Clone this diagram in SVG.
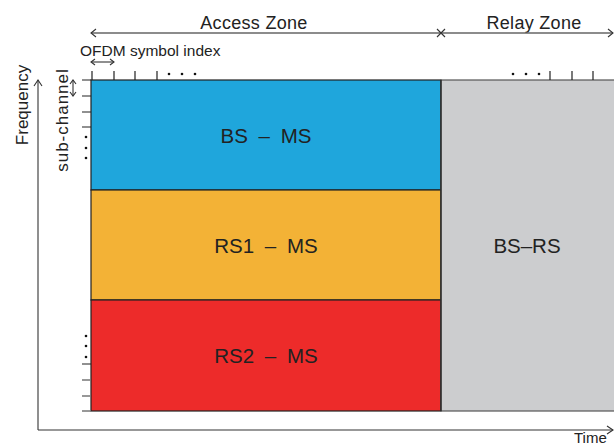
<svg xmlns="http://www.w3.org/2000/svg" width="614" height="447" viewBox="0 0 614 447">
<style>
text{font-family:"Liberation Sans","Noto Sans CJK KR",sans-serif;fill:#222}
.lbl{font-size:20.5px;text-anchor:middle}
.wide{word-spacing:5px}
.zone{font-size:18px;text-anchor:middle;letter-spacing:0.3px}
.ln{stroke:#666;stroke-width:1.5;fill:none}
.tk{stroke:#222;stroke-width:1.2;fill:none}
.tg{stroke:#777;stroke-width:1.5;fill:none}
.ah{stroke:#333;stroke-width:1.1;fill:none}
.blk{stroke:#222;stroke-width:1.2}
</style>
<g id="access-zone">
<rect x="91" y="80" width="350" height="110" fill="#1fa6dc" class="blk"/>
<rect x="91" y="190" width="350" height="110" fill="#f3b236" class="blk"/>
<rect x="91" y="300" width="350" height="111" fill="#ed2b2a" class="blk"/>
</g>
<g id="relay-zone">
<rect x="441" y="80" width="175" height="331" fill="#cccdcf" stroke="#555" stroke-width="1.2"/>
<line x1="441" y1="80" x2="441" y2="411" class="blk"/>
</g>
<g id="bs-ms"><text class="lbl wide" x="266" y="143">BS – MS</text></g>
<g id="rs1-ms"><text class="lbl wide" x="266" y="253">RS1 – MS</text></g>
<g id="rs2-ms"><text class="lbl wide" x="266" y="363">RS2 – MS</text></g>
<g id="bs-rs"><text class="lbl" x="527" y="253">BS–RS</text></g>
<g id="labels">
<text class="zone" x="254" y="29">Access Zone</text>
<text class="zone" x="534" y="29">Relay Zone</text>
<text x="80" y="56" font-size="15.5">OFDM symbol index</text>
<text font-size="17" text-anchor="middle" transform="translate(28,105) rotate(-90)">Frequency</text>
<text font-size="17" letter-spacing="1" text-anchor="middle" transform="translate(68,120) rotate(-90)">sub-channel</text>
<text x="574" y="443" font-size="15">Time</text>
</g>
<g id="connectors">
<line x1="91" y1="33" x2="613" y2="33" class="ln"/>
<path d="M96,29 L91,33 L96,37" class="ah"/>
<path d="M437,29 L445,37 M445,29 L437,37" class="ah"/>
<path d="M608,29 L613,33 L608,37" class="ah"/>
<line x1="91" y1="62" x2="114" y2="62" class="ah"/>
<path d="M95,59 L91,62 L95,65 M110,59 L114,62 L110,65" class="ah"/>
<line x1="73" y1="80" x2="73" y2="96" class="ah"/>
<path d="M70,84 L73,80 L76,84 M70,92 L73,96 L76,92" class="ah"/>
<line x1="38" y1="80" x2="38" y2="430" class="ah" stroke-width="1.5"/>
<path d="M34,86 L38,80 L42,86" class="ah"/>
<line x1="38" y1="430" x2="613" y2="430" class="ah" stroke-width="1.5"/>
<path d="M607,426 L613,430 L607,434" class="ah"/>
<path d="M92,71 V80 M114,71 V80 M135,71 V80 M157,71 V80 M550,71 V80 M572,71 V80 M593,71 V80" class="tk"/>
<path d="M82,80 H91 M82,96 H91 M82,112 H91 M82,127 H91 M82,364 H91" class="tk"/>
<path d="M82,380 H91 M82,396 H91 M82,411 H91" class="tg"/>
<g fill="#111">
<circle cx="169" cy="74" r="1.3"/><circle cx="182" cy="74" r="1.3"/><circle cx="195" cy="74" r="1.3"/>
<circle cx="513" cy="74" r="1.3"/><circle cx="526" cy="74" r="1.3"/><circle cx="539" cy="74" r="1.3"/>
<circle cx="86" cy="137" r="1.3"/><circle cx="86" cy="148" r="1.3"/><circle cx="86" cy="158" r="1.3"/>
<circle cx="86" cy="336" r="1.3"/><circle cx="86" cy="346" r="1.3"/><circle cx="86" cy="357" r="1.3"/>
</g>
</g>
</svg>
